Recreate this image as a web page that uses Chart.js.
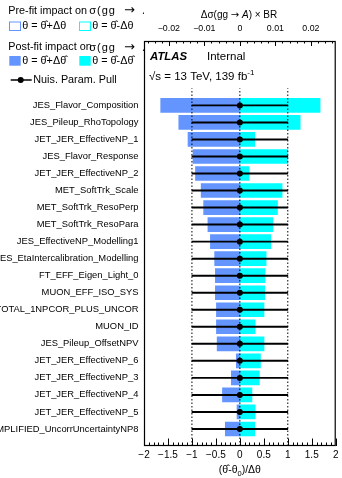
<!DOCTYPE html>
<html>
<head>
<meta charset="utf-8">
<script src="https://cdn.jsdelivr.net/npm/chart.js@4"></script>
<style>
  html, body { margin: 0; padding: 0; background: #fff; }
  canvas { display: block; }
</style>
</head>
<body>
<canvas id="ranking" width="342" height="478"></canvas>
<script>
// Nuisance parameters, highest-ranked first
const nuisance = [
  'JES_Flavor_Composition',
  'JES_Pileup_RhoTopology',
  'JET_JER_EffectiveNP_1',
  'JES_Flavor_Response',
  'JET_JER_EffectiveNP_2',
  'MET_SoftTrk_Scale',
  'MET_SoftTrk_ResoPerp',
  'MET_SoftTrk_ResoPara',
  'JES_EffectiveNP_Modelling1',
  'JES_EtaIntercalibration_Modelling',
  'FT_EFF_Eigen_Light_0',
  'MUON_EFF_ISO_SYS',
  'EL_EFF_ID_TOTAL_1NPCOR_PLUS_UNCOR',
  'MUON_ID',
  'JES_Pileup_OffsetNPV',
  'JET_JER_EffectiveNP_6',
  'JET_JER_EffectiveNP_3',
  'JET_JER_EffectiveNP_4',
  'JET_JER_EffectiveNP_5',
  'EL_EFF_ID_SIMPLIFIED_UncorrUncertaintyNP8'
];

// Post-fit impact on the cross-section times BR
const impactUp = [   // theta = theta-hat + delta-theta-hat
  -0.0223, -0.0172, -0.0146, -0.0132, -0.0125, -0.0109, -0.0102, -0.0090, -0.0083, -0.0071,
  -0.0069, -0.0069, -0.0066, -0.0066, -0.0064, -0.0010, -0.0024, -0.0049, -0.0008, -0.0041
];
const impactDown = [ // theta = theta-hat - delta-theta-hat
  0.0226, 0.0170, 0.0042, 0.0135, 0.0026, 0.0119, 0.0106, 0.0093, 0.0087, 0.0074,
  0.0071, 0.0070, 0.0068, 0.0043, 0.0068, 0.0058, 0.0055, 0.0034, 0.0043, 0.0042
];

// Pulls (theta-hat - theta0)/delta-theta and their post-fit uncertainties
const pulls = [0, 0, 0, 0, 0, 0, 0, 0, 0, 0, 0, 0, 0, 0, 0, 0, 0, 0, 0, 0];
const pullErrors = [1, 1, 1, 1, 1, 1, 1, 1, 1, 1, 1, 1, 1, 1, 1, 1, 1, 1, 1, 1];

const pullTicks = [-2, -1.5, -1, -0.5, 0, 0.5, 1, 1.5, 2];
const impactTicks = [-0.02, -0.01, 0, 0.01, 0.02];
const refLines = [-1, 0, 1];

const BLUE = 'rgb(100,149,255)';
const CYAN = 'rgb(0,255,255)';
const FAM = '"Liberation Sans", Arial, Helvetica, sans-serif';
const ARROW_FAM = '"DejaVu Sans", sans-serif';
const font = (size, style, fam) => (style ? style + ' ' : '') + size + 'px ' + (fam || FAM);

// Row n (0 = top) sits at height N - n on the linear y scale
const rowOf = i => nuisance.length - i;
const signed = v => (v < 0 ? '\u2212' : '') + Math.abs(v);

function drawRuns(ctx, x, y, parts) {
  for (const [t, f, dy] of parts) {
    ctx.font = f;
    ctx.fillText(t, x, y + (dy || 0));
    x += ctx.measureText(t).width;
  }
  return x;
}
function runsWidth(ctx, parts) {
  let w = 0;
  for (const [t, f] of parts) { ctx.font = f; w += ctx.measureText(t).width; }
  return w;
}

// Frame, inward ticks, titles, legend and the experiment label
const decorations = {
  id: 'decorations',
  afterDraw(chart) {
    const ctx = chart.ctx;
    const ca = chart.chartArea;
    const xb = chart.scales.xb;
    const xt = chart.scales.x;
    ctx.save();
    ctx.strokeStyle = '#000';
    ctx.fillStyle = '#000';
    ctx.lineWidth = 1;

    // ticks on the pull axis: minor every 0.1, major every 0.5
    ctx.beginPath();
    for (let k = -20; k <= 20; k++) {
      const px = Math.round(xb.getPixelForValue(k / 10)) + 0.5;
      const len = k % 5 === 0 ? 7.5 : 3.5;
      ctx.moveTo(px, ca.bottom);
      ctx.lineTo(px, ca.bottom - len);
    }
    // ticks on the impact axis: minor every 0.002, major every 0.01
    for (let k = -13; k <= 13; k++) {
      const px = Math.round(xt.getPixelForValue(k * 0.002)) + 0.5;
      const len = k % 5 === 0 ? 5 : 2.5;
      ctx.moveTo(px, ca.top);
      ctx.lineTo(px, ca.top + len);
    }
    ctx.stroke();

    // frame
    ctx.lineWidth = 1.2;
    ctx.strokeRect(ca.left + 0.5, ca.top + 0.5, ca.right - ca.left - 1, ca.bottom - ca.top - 1);

    ctx.textBaseline = 'middle';
    ctx.textAlign = 'left';

    // axis titles
    const topTitle = [
      ['\u0394\u03c3(gg ', font(10)], ['\u2192', font(10, '', ARROW_FAM)], [' ', font(10)],
      ['A', font(10, 'italic')], [') \u00d7 BR', font(10)]
    ];
    drawRuns(ctx, 239 - runsWidth(ctx, topTitle) / 2, 15.5, topTitle);
    const botTitle = [['(\u03b8\u0302-\u03b8', font(10.5)], ['0', font(7.5), 3], [')/\u0394\u03b8', font(10.5)]];
    drawRuns(ctx, (ca.left + ca.right) / 2 - runsWidth(ctx, botTitle) / 2, 470.5, botTitle);

    // experiment label
    drawRuns(ctx, 150, 57, [['ATLAS', font(11.4, 'italic bold')]]);
    drawRuns(ctx, 207, 57, [['Internal', font(11.5)]]);
    drawRuns(ctx, 149, 77, [['\u221as = 13 TeV, 139 fb', font(11.5)], ['-1', font(8), -4]]);

    // legend, clipped at the frame
    ctx.save();
    ctx.beginPath();
    ctx.rect(0, 0, ca.left, 100);
    ctx.clip();
    const lf = font(10.8);
    const header = (y, lead) => {
      drawRuns(ctx, 8.3, y, [[lead, lf]]);
      ctx.letterSpacing = '1px';
      drawRuns(ctx, 89.3, y, [['\u03c3(gg', font(11)]]);
      ctx.letterSpacing = '0px';
      drawRuns(ctx, 124, y, [['\u2192', font(13, '', ARROW_FAM)]]);
      drawRuns(ctx, 143.3, y, [['A', font(10.8, 'italic')], [') \u00d7 BR', lf]]);
    };
    header(11, 'Pre-fit impact on');
    ctx.lineWidth = 1;
    ctx.strokeStyle = BLUE;
    ctx.strokeRect(9.5, 22, 11, 8.5);
    ctx.strokeStyle = CYAN;
    ctx.strokeRect(79.5, 22, 11, 8.5);
    drawRuns(ctx, 22.3, 26, [['\u03b8 = \u03b8\u0302+\u0394\u03b8', lf]]);
    drawRuns(ctx, 92.3, 26, [['\u03b8 = \u03b8\u0302-\u0394\u03b8', lf]]);

    header(47.5, 'Post-fit impact on');
    ctx.fillStyle = BLUE;
    ctx.fillRect(9.3, 56, 11.4, 9.7);
    ctx.fillStyle = CYAN;
    ctx.fillRect(79.3, 56, 11.4, 9.7);
    ctx.fillStyle = '#000';
    drawRuns(ctx, 22.3, 61, [['\u03b8 = \u03b8\u0302+\u0394\u03b8\u0302', lf]]);
    drawRuns(ctx, 92.3, 61, [['\u03b8 = \u03b8\u0302-\u0394\u03b8\u0302', lf]]);

    ctx.strokeStyle = '#000';
    ctx.lineWidth = 1.5;
    ctx.beginPath();
    ctx.moveTo(10.7, 80);
    ctx.lineTo(31.7, 80);
    ctx.stroke();
    ctx.beginPath();
    ctx.arc(20.7, 80, 3, 0, Math.PI * 2);
    ctx.fill();
    drawRuns(ctx, 33.3, 80, [['Nuis. Param. Pull', lf]]);
    ctx.restore();

    ctx.restore();
  }
};

const datasets = [
  {
    type: 'bar',
    label: 'impact up',
    data: impactUp.map((v, i) => ({ x: v, y: rowOf(i) })),
    xAxisID: 'x', yAxisID: 'y',
    backgroundColor: BLUE, borderWidth: 0,
    barThickness: 14, grouped: false, order: 5
  },
  {
    type: 'bar',
    label: 'impact down',
    data: impactDown.map((v, i) => ({ x: v, y: rowOf(i) })),
    xAxisID: 'x', yAxisID: 'y',
    backgroundColor: CYAN, borderWidth: 0,
    barThickness: 14, grouped: false, order: 5
  },
  ...refLines.map(v => ({
    type: 'line',
    label: 'ref ' + v,
    data: [{ x: v, y: 0 }, { x: v, y: nuisance.length + 1 }],
    xAxisID: 'xb', yAxisID: 'y',
    borderColor: '#000', borderWidth: 1, borderDash: [1.5, 2],
    pointRadius: 0, fill: false, order: 3
  })),
  {
    type: 'bar',
    label: 'pull error',
    data: pulls.map((p, i) => ({ x: [p - pullErrors[i], p + pullErrors[i]], y: rowOf(i) })),
    xAxisID: 'xb', yAxisID: 'y',
    backgroundColor: '#000', borderWidth: 0,
    barThickness: 1.3, grouped: false, order: 2
  },
  {
    type: 'scatter',
    label: 'pull',
    data: pulls.map((p, i) => ({ x: p, y: rowOf(i) })),
    xAxisID: 'xb', yAxisID: 'y',
    backgroundColor: '#000', borderWidth: 0,
    pointRadius: 3, order: 1
  }
];

new Chart(document.getElementById('ranking'), {
  type: 'bar',
  data: { datasets },
  options: {
    indexAxis: 'y',
    responsive: false,
    animation: false,
    devicePixelRatio: 1,
    layout: { padding: { left: 0, right: 4, top: 0, bottom: 0 } },
    plugins: { legend: { display: false }, tooltip: { enabled: false } },
    scales: {
      y: {
        type: 'linear', position: 'left', min: 0, max: 23.78, offset: false,
        grid: { display: false, drawTicks: false }, border: { display: false },
        afterBuildTicks: s => { s.ticks = nuisance.map((_, i) => ({ value: rowOf(i) })); },
        afterFit: s => { s.width = 144; },
        ticks: {
          autoSkip: false, padding: 5.5, color: '#000',
          font: { family: FAM, size: 9.4 },
          callback: v => nuisance[nuisance.length - v]
        }
      },
      x: {
        type: 'linear', position: 'top', min: -0.027, max: 0.027, offset: false,
        grid: { display: false, drawTicks: false }, border: { display: false },
        afterBuildTicks: s => { s.ticks = impactTicks.map(v => ({ value: v })); },
        afterFit: s => { s.height = 41; },
        ticks: {
          autoSkip: false, maxRotation: 0, padding: 7.2, color: '#000',
          font: { family: FAM, size: 8.8 },
          callback: v => signed(v)
        }
      },
      xb: {
        type: 'linear', position: 'bottom', min: -2, max: 2, offset: false,
        grid: { display: false, drawTicks: false }, border: { display: false },
        afterBuildTicks: s => { s.ticks = pullTicks.map(v => ({ value: v })); },
        afterFit: s => { s.height = 32; },
        ticks: {
          autoSkip: false, maxRotation: 0, padding: 3.5, color: '#000',
          font: { family: FAM, size: 10 },
          callback: v => signed(v)
        }
      }
    }
  },
  plugins: [decorations]
});
</script>
</body>
</html>
